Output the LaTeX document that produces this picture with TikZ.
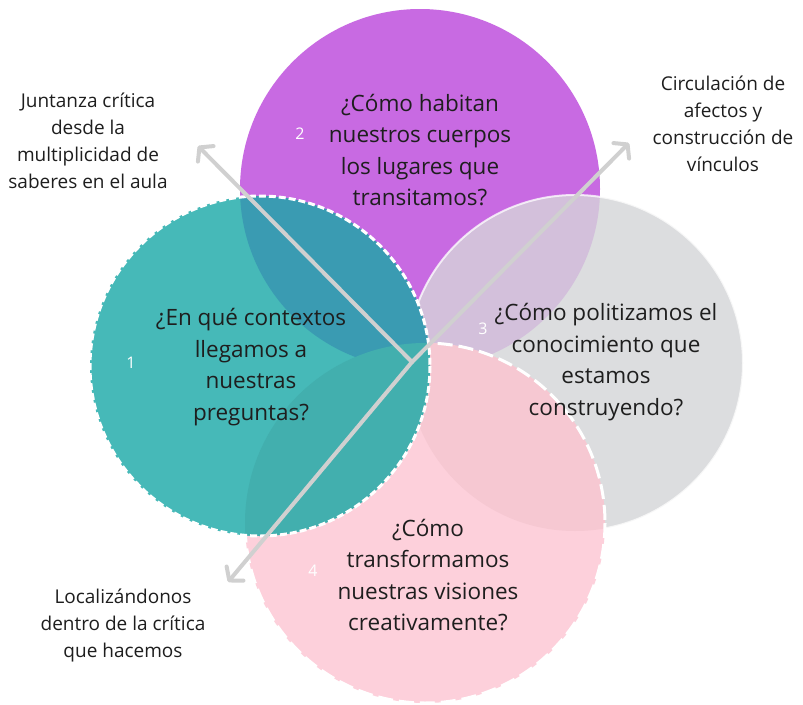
\documentclass[tikz,border=0pt]{standalone}
\usepackage{fontspec}
\setmainfont{Open Sans}
\usetikzlibrary{arrows.meta}
\definecolor{vnpurple}{RGB}{200,106,226}
\definecolor{vnteal}{RGB}{70,185,184}
\definecolor{vngray}{RGB}{220,221,223}
\definecolor{vnpink}{RGB}{253,208,219}
\definecolor{vntealpurple}{RGB}{58,155,178}
\definecolor{vngraypurple}{RGB}{211,192,219}
\definecolor{vnpinkgray}{RGB}{246,200,210}
\definecolor{vntealpink}{RGB}{66,175,174}
\definecolor{vnarrow}{RGB}{208,208,208}
\definecolor{vntext}{RGB}{30,30,30}

\begin{document}
\begin{tikzpicture}[
  x=1pt,y=-1pt,
  question/.style={align=center,text=vntext,font=\fontsize{22.5}{31.5}\selectfont},
  sidelabel/.style={align=center,text=vntext,font=\fontsize{19}{27}\selectfont},
  number/.style={text=white,font=\fontsize{16}{16}\selectfont},
  tealrim/.style={draw=white,line width=3pt,dash pattern=on 7pt off 3pt},
  pinkrim/.style={draw=white,line width=3pt,dash pattern=on 15pt off 6pt},
  axis/.style={draw=vnarrow,line width=4pt,line cap=round,
               -{Straight Barb[length=9pt,width=22pt,round]}},
]
  \useasboundingbox (0,0) rectangle (803,704);
  \fill[white] (0,0) rectangle (803,704);

  % circle centres
  \coordinate (pc) at (420,189);
  \coordinate (gc) at (575,363);
  \coordinate (kc) at (425,523);
  \coordinate (tc) at (260,366);

  % purple circle
  \fill[vnpurple] (pc) circle (180);

  % gray circle
  \fill[vngray] (gc) circle (168);
  \begin{scope}
    \clip (pc) circle (180);
    \fill[vngraypurple] (gc) circle (168);
  \end{scope}
  \draw[white,line width=2pt,draw opacity=0.75] (gc) circle (168);

  % pink circle
  \fill[vnpink] (kc) circle (180);
  \begin{scope}
    \clip (gc) circle (168);
    \fill[vnpinkgray] (kc) circle (180);
  \end{scope}
  \draw[pinkrim] (kc) circle (180);

  % teal circle
  \fill[vnteal] (tc) circle (170);
  \begin{scope}
    \clip (tc) circle (170);
    \fill[vntealpurple] (pc) circle (180);
    \fill[vntealpink] (kc) circle (180);
  \end{scope}
  \draw[tealrim] (tc) circle (170);

  % arrows
  \coordinate (hub) at (412,362);
  \coordinate (ultip) at (198,146);
  \coordinate (urtip) at (629,143);
  \coordinate (lltip) at (228,582);
  \draw[axis] (hub) -- (ultip);
  \draw[axis] (hub) -- (urtip);
  \draw[axis] (hub) -- (lltip);

  % questions
  \node[question] (habitan) at (420,150)
    {¿Cómo habitan\\nuestros cuerpos\\los lugares que\\transitamos?};
  \node[question] (contextos) at (251,367)
    {¿En qué contextos\\llegamos a\\nuestras\\preguntas?};
  \node[question] (politizamos) at (606,362)
    {¿Cómo politizamos el\\conocimiento que\\estamos\\construyendo?};
  \node[question] (transformamos) at (428,575)
    {¿Cómo\\transformamos\\nuestras visiones\\creativamente?};

  % numbers
  \node[number] (n1) at (131,363) {1};
  \node[number] (n2) at (300,134) {2};
  \node[number] (n3) at (483,329) {3};
  \node[number] (n4) at (313,571) {4};

  % side labels
  \node[sidelabel] (juntanza) at (88,141)
    {Juntanza crítica\\desde la\\multiplicidad de\\saberes en el aula};
  \node[sidelabel] (circulacion) at (723,124)
    {Circulación de\\afectos y\\construcción de\\vínculos};
  \node[sidelabel] (localizandonos) at (123,625)
    {Localizándonos\\dentro de la crítica\\que hacemos};
\end{tikzpicture}
\end{document}
